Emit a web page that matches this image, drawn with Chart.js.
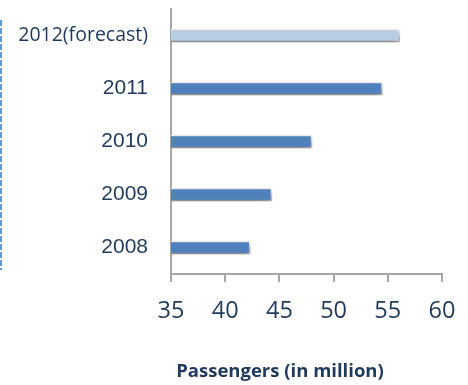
<!DOCTYPE html>
<html>
<head>
<meta charset="utf-8">
<script src="https://cdn.jsdelivr.net/npm/chart.js@4/dist/chart.umd.min.js"></script>
<style>
  html, body { margin: 0; padding: 0; background: #fff; }
  #wrap { position: relative; width: 468px; height: 385px; }
  #edge {
    position: absolute; left: 0; top: 20px; width: 2px; height: 250px;
    background: repeating-linear-gradient(to bottom, #5b9bd5 0 6px, transparent 6px 8px);
  }
  #xtitle {
    position: absolute; left: 0; width: 560px; top: 357px; text-align: center;
    font: bold 18.5px "Open Sans", sans-serif; color: #1f3a5c;
  }
</style>
</head>
<body>
<div id="wrap">
  <canvas id="chart" width="468" height="385"></canvas>
  <div id="edge"></div>
  <div id="xtitle">Passengers (in million)</div>
</div>
<script>
// passengers per year, in million
const years = ['2012(forecast)', '2011', '2010', '2009', '2008'];
const passengers = [56.1, 54.5, 48.0, 44.3, 42.3];
const barColors = ['#b8cce4', '#4f81bd', '#4f81bd', '#4f81bd', '#4f81bd'];
const xTicks = [35, 40, 45, 50, 55, 60];

const textColor = '#1f3a5c';
const axisGray = '#a6a6a6';

// soft drop shadow under the bars
const barShadow = {
  id: 'barShadow',
  beforeDatasetsDraw(chart) {
    const ctx = chart.ctx;
    ctx.save();
    ctx.shadowColor = 'rgba(0,0,0,0.6)';
    ctx.shadowBlur = 9;
    ctx.shadowOffsetX = 2;
    ctx.shadowOffsetY = 4;
  },
  afterDatasetsDraw(chart) {
    chart.ctx.restore();
  }
};

new Chart(document.getElementById('chart'), {
  type: 'bar',
  data: {
    labels: years,
    datasets: [{
      data: passengers,
      backgroundColor: barColors,
      borderColor: '#ffffff',
      borderWidth: 1.5,
      borderSkipped: false,
      barThickness: 13
    }]
  },
  options: {
    indexAxis: 'y',
    responsive: false,
    animation: false,
    layout: { padding: { top: 9, right: 26, left: 0, bottom: 0 } },
    plugins: { legend: { display: false }, tooltip: { enabled: false } },
    scales: {
      x: {
        min: 35,
        max: 60,
        afterBuildTicks(scale) { scale.ticks = xTicks.map(v => ({ value: v })); },
        afterFit(scale) { scale.height = 111; scale.paddingLeft = 0; scale.paddingRight = 0; },
        border: { display: true, color: axisGray, width: 2 },
        grid: { drawOnChartArea: false, drawTicks: true, tickLength: 8, color: axisGray, lineWidth: 2 },
        ticks: { color: textColor, padding: 15, font: { family: 'Open Sans', size: 23.5 } }
      },
      y: {
        afterFit(scale) { scale.width = 171; scale.paddingTop = 0; scale.paddingBottom = 0; },
        border: { display: true, color: axisGray, width: 2 },
        grid: { display: false, drawTicks: false },
        ticks: {
          color: textColor,
          padding: 23,
          font: ctx => ctx.index === 0
            ? { family: 'Open Sans', size: 19.5 }
            : { family: 'Liberation Sans', size: 21 }
        }
      }
    }
  },
  plugins: [barShadow]
});
</script>
</body>
</html>
